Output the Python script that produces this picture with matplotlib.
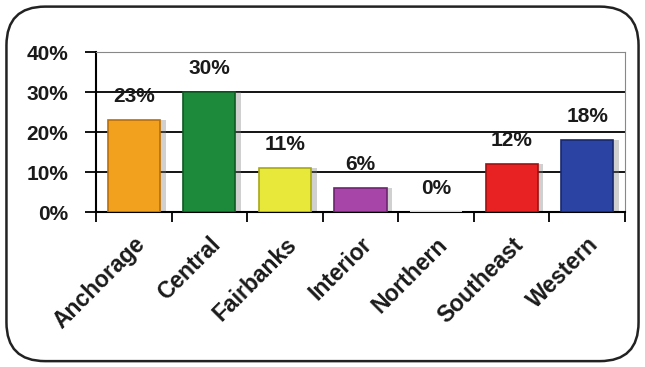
import matplotlib.pyplot as plt
from matplotlib.patches import FancyBboxPatch
import numpy as np

plt.rcParams['font.family'] = ['Liberation Sans', 'DejaVu Sans']
plt.rcParams['font.weight'] = 'bold'

regions = ['Anchorage', 'Central', 'Fairbanks', 'Interior', 'Northern', 'Southeast', 'Western']
shares = [23, 30, 11, 6, 0, 12, 18]
bar_colors = ['#F2A11F', '#1C8A3A', '#E8E83A', '#A745A8', '#FFFFFF', '#E82222', '#2B43A3']
edge_colors = ['#B86F0A', '#0E5A22', '#A8A818', '#6E2470', '#FFFFFF', '#A01010', '#18286E']
yticks = [0, 10, 20, 30, 40]

fig = plt.figure(figsize=(6.45, 3.67), dpi=100)
fig.patch.set_facecolor('white')

# rounded frame around the whole chart
frame = FancyBboxPatch((0.010, 0.016), 0.980, 0.966,
                       boxstyle="round,pad=0,rounding_size=0.06",
                       transform=fig.transFigure, fill=False,
                       edgecolor='#222222', linewidth=1.8, mutation_aspect=645 / 367)
fig.patches.append(frame)

ax = fig.add_axes([96 / 645, 1 - 212 / 367, (625 - 96) / 645, (212 - 52) / 367])
x = np.arange(len(regions))

# soft drop shadow then bars
ax.bar(x + 0.07, shares, width=0.7, color='#7a7a7a', alpha=0.35, zorder=2)
ax.bar(x, shares, width=0.69, color=bar_colors, edgecolor=edge_colors,
       linewidth=1.2, zorder=3)

for xi, v in zip(x, shares):
    ax.annotate(f"{v}%", (xi, v), xytext=(0, 10), textcoords='offset points',
                ha='center', va='bottom', fontsize=15, fontweight='bold',
                color='#1a1a1a', zorder=4)

ax.set_xlim(-0.5, len(regions) - 0.5)
ax.set_ylim(0, 40)
ax.set_yticks(yticks)
ax.set_yticklabels([f"{t}%" for t in yticks], fontsize=15, fontweight='bold', color='#1a1a1a')
ax.yaxis.grid(True, color='black', linewidth=1.3, zorder=1)
ax.set_axisbelow(True)

ax.set_xticks(x)
ax.set_xticklabels(regions, rotation=45, ha='right', va='top', rotation_mode='anchor',
                   fontsize=16.5, fontweight='bold', color='#1a1a1a')
ax.set_xticks(np.arange(len(regions) + 1) - 0.5, minor=True)
ax.tick_params(axis='x', which='major', length=0, pad=15)
ax.tick_params(axis='x', which='minor', length=7, width=1.3, color='black')
ax.tick_params(axis='y', length=8, width=1.3, color='black', pad=12)

ax.spines['left'].set_color('black')
ax.spines['bottom'].set_color('black')
ax.spines['left'].set_linewidth(1.5)
ax.spines['bottom'].set_linewidth(1.5)
ax.spines['top'].set_color('#888888')
ax.spines['right'].set_color('#888888')

fig.savefig('out.png', dpi=100)
